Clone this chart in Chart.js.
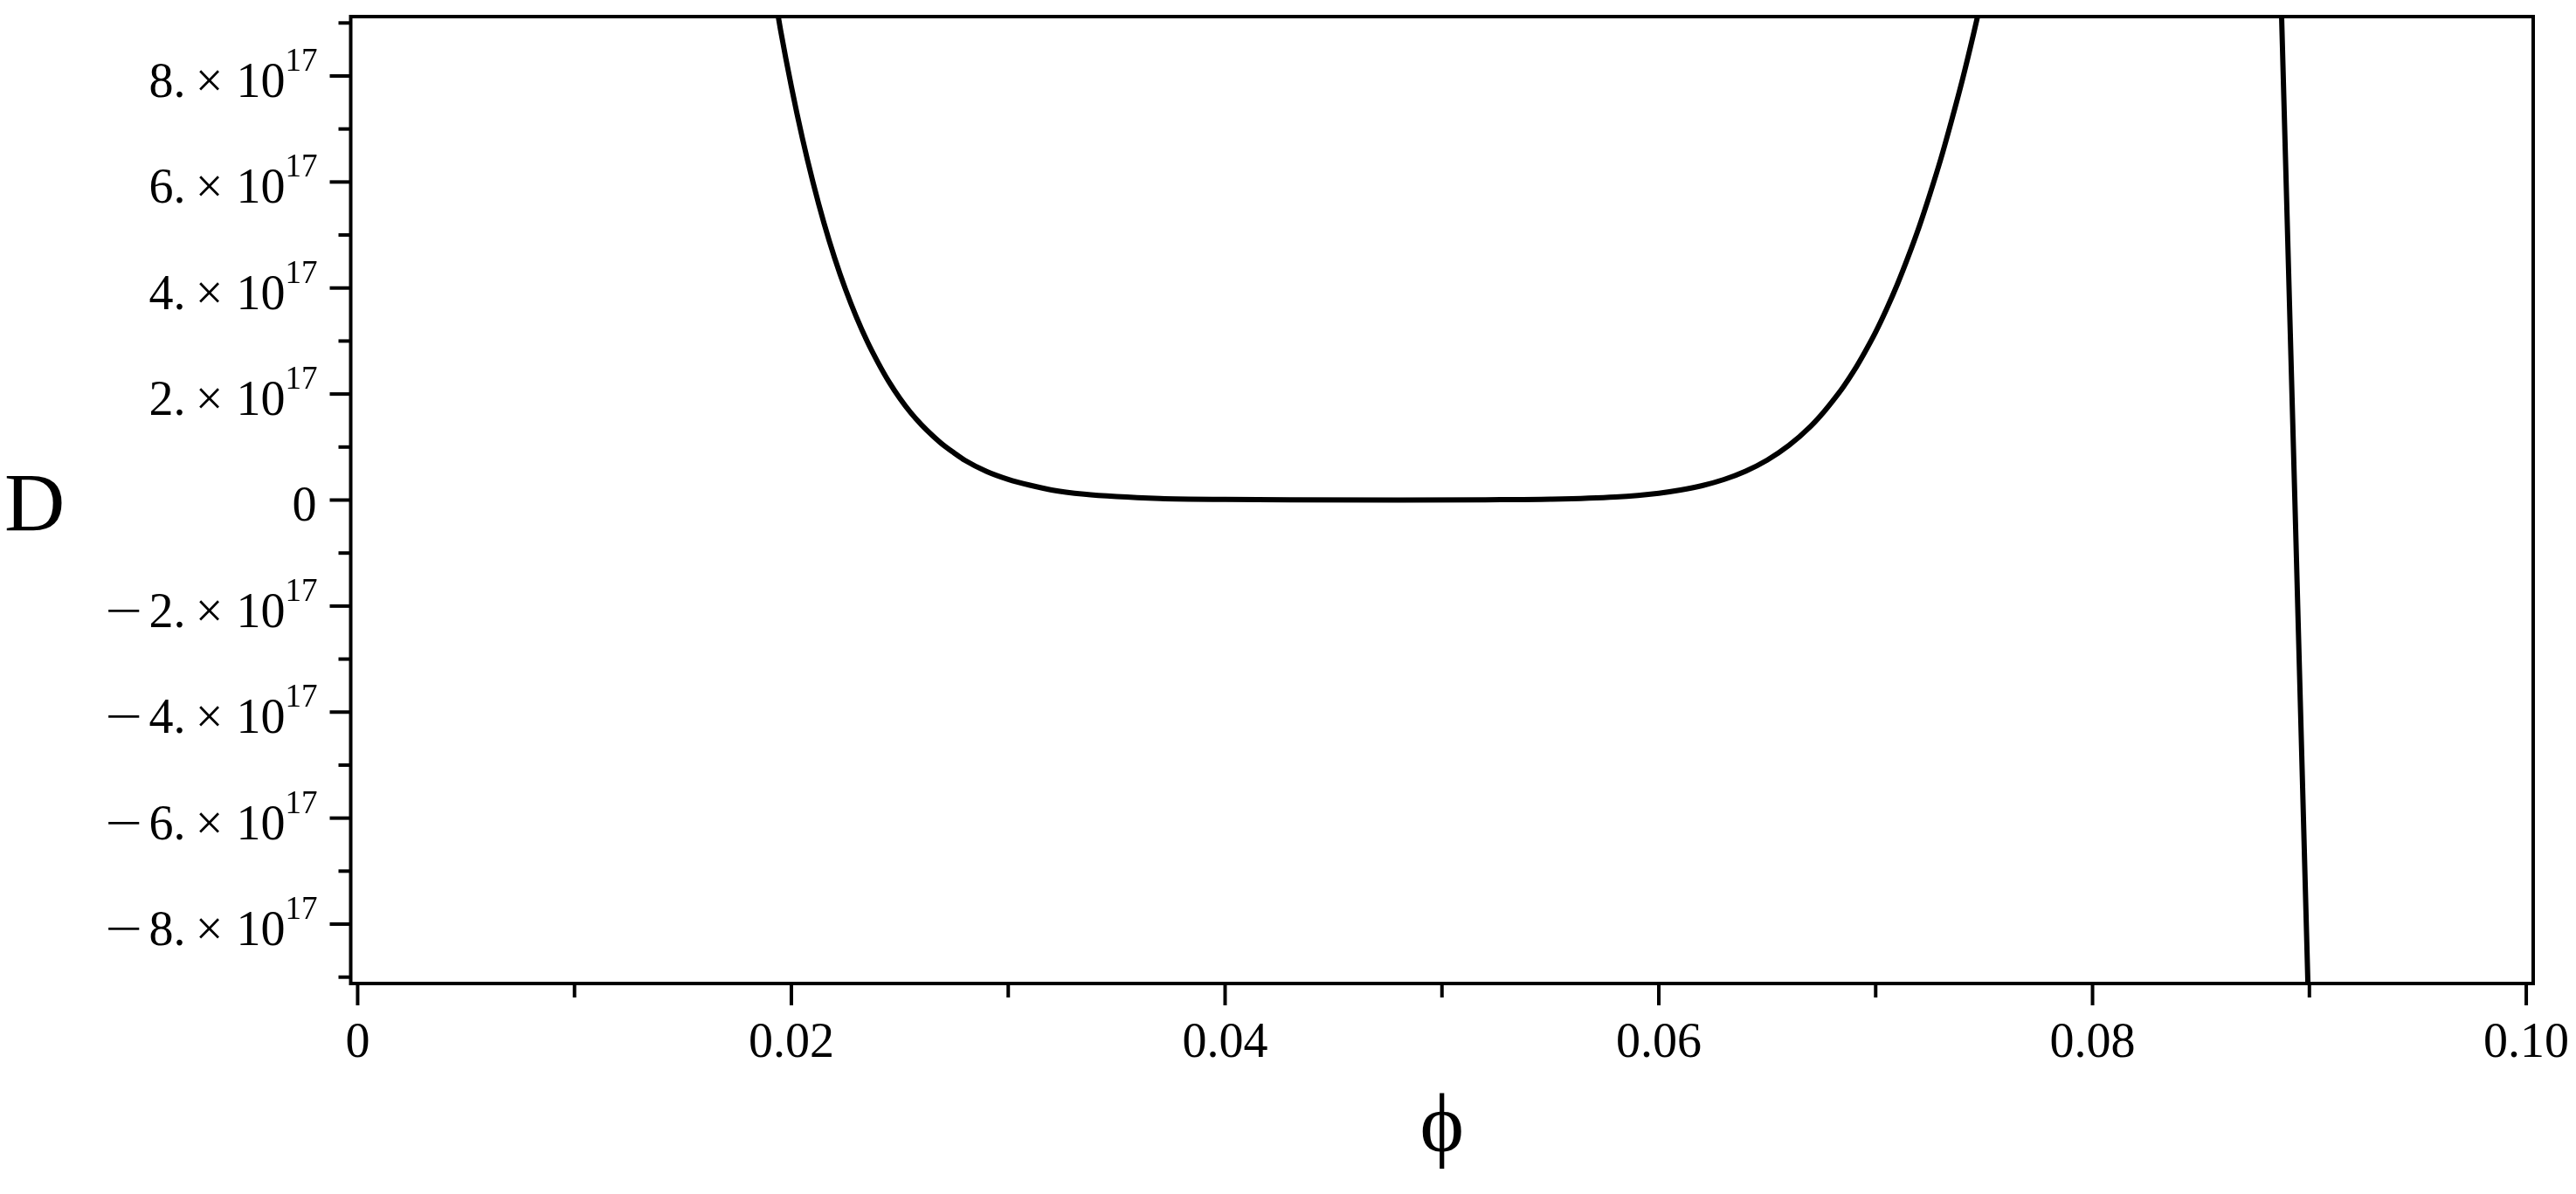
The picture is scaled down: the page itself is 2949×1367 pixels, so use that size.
<!DOCTYPE html>
<html>
<head>
<meta charset="utf-8">
<script src="https://cdn.jsdelivr.net/npm/chart.js@4.4.1/dist/chart.umd.min.js"></script>
<style>
  html, body { margin: 0; padding: 0; background: #fff; }
  canvas { display: block; }
</style>
</head>
<body>
<canvas id="c" width="2949" height="1367"></canvas>
<script>
// ---- Data (D in units of 1e17) ----
const phiMain = [0.0190, 0.0195, 0.0200, 0.0205, 0.0210, 0.0215, 0.0220, 0.0225, 0.0230, 0.0235,
                 0.0240, 0.0245, 0.0250, 0.0255, 0.0260, 0.0265, 0.0270, 0.0275, 0.0280, 0.0290,
                 0.0300, 0.0310, 0.0320, 0.0335, 0.0350, 0.0370, 0.0400, 0.0430, 0.0480, 0.0520,
                 0.0550, 0.0580, 0.0600, 0.0610, 0.0620, 0.0630, 0.0640, 0.0650, 0.0660, 0.0670,
                 0.0675, 0.0680, 0.0685, 0.0690, 0.0695, 0.0700, 0.0705, 0.0710, 0.0715, 0.0720,
                 0.0725, 0.0730, 0.0735, 0.0740, 0.0745, 0.0750];
const dMain   = [10.07, 8.87, 7.80, 6.84, 5.99, 5.23, 4.56, 3.97, 3.45, 2.99,
                 2.59, 2.23, 1.92, 1.65, 1.42, 1.22, 1.04, 0.89, 0.75, 0.54,
                 0.39, 0.28, 0.19, 0.11, 0.064, 0.030, 0.012, 0.004, 0.000, 0.005,
                 0.016, 0.058, 0.129, 0.189, 0.272, 0.387, 0.544, 0.754, 1.03, 1.39,
                 1.61, 1.86, 2.13, 2.44, 2.79, 3.17, 3.60, 4.07, 4.59, 5.15,
                 5.77, 6.43, 7.16, 7.93, 8.77, 9.66];
const phiSteep = [0.08870, 0.08933, 0.08995];
const dSteep   = [9.40, 0.00, -9.40];
const dScale = 1e17;

// ---- Axes / tick labels ----
const xRange = [-0.00032, 0.10032];
const yRange = [-9.12, 9.12];
const xTickValues = [0, 0.02, 0.04, 0.06, 0.08, 0.10];
const xTickLabels = ["0", "0.02", "0.04", "0.06", "0.08", "0.10"];
const xMinorValues = [0.01, 0.03, 0.05, 0.07, 0.09];
const yTickMantissas = [-8, -6, -4, -2, 0, 2, 4, 6, 8];
const yMinorMantissas = [-9, -7, -5, -3, -1, 1, 3, 5, 7, 9];
const yTickExponent = 17;
const xTitle = "ϕ";
const yTitle = "D";

const toPts = (xs, ys) => xs.map((x, i) => ({ x: x, y: ys[i] * dScale }));

const FONT = '"Liberation Serif", "Times New Roman", serif';

const axesPlugin = {
  id: 'mapleAxes',
  afterDraw(chart) {
    const { ctx, chartArea: a, scales: { x, y } } = chart;
    ctx.save();
    ctx.strokeStyle = '#000';
    ctx.fillStyle = '#000';
    ctx.lineWidth = 4;
    ctx.lineCap = 'butt';
    // frame
    ctx.strokeRect(a.left, a.top, a.right - a.left, a.bottom - a.top);

    // y ticks
    const drawYTick = (v, len) => {
      const py = y.getPixelForValue(v);
      ctx.beginPath(); ctx.moveTo(a.left - len, py); ctx.lineTo(a.left, py); ctx.stroke();
    };
    yTickMantissas.forEach(m => drawYTick(m * dScale, 24));
    yMinorMantissas.forEach(m => drawYTick(m * dScale, 14));

    // x ticks
    const drawXTick = (v, len) => {
      const px = x.getPixelForValue(v);
      ctx.beginPath(); ctx.moveTo(px, a.bottom); ctx.lineTo(px, a.bottom + len); ctx.stroke();
    };
    xTickValues.forEach(v => drawXTick(v, 25));
    xMinorValues.forEach(v => drawXTick(v, 16));

    // y labels
    const mainFont = '56px ' + FONT;
    const supFont = '37px ' + FONT;
    const R = a.left - 38;
    ctx.textBaseline = 'alphabetic';
    yTickMantissas.forEach(m => {
      const py = y.getPixelForValue(m * dScale);
      if (m === 0) {
        ctx.font = mainFont; ctx.textAlign = 'right';
        ctx.fillText('0', R - 1, py + 23);
        return;
      }
      ctx.font = supFont;
      const sw = ctx.measureText(String(yTickExponent)).width;
      const xs = R - sw;
      ctx.textAlign = 'left';
      ctx.fillText(String(yTickExponent), xs, py - 6);
      ctx.font = mainFont;
      ctx.textAlign = 'right';
      ctx.fillText('10', xs, py + 24);
      ctx.textAlign = 'center';
      ctx.fillText('×', xs - 87, py + 24);
      ctx.textAlign = 'right';
      ctx.fillText(Math.abs(m) + '.', xs - 114, py + 24);
      if (m < 0) {
        ctx.save();
        ctx.translate(xs - 185, py + 24);
        ctx.scale(1.35, 1);
        ctx.textAlign = 'center';
        ctx.fillText('−', 0, 0);
        ctx.restore();
      }
    });

    // x labels
    ctx.font = mainFont;
    ctx.textAlign = 'center';
    xTickValues.forEach((v, i) => {
      ctx.fillText(xTickLabels[i], x.getPixelForValue(v), a.bottom + 84);
    });

    // titles
    ctx.font = '96px ' + FONT;
    ctx.textAlign = 'left';
    ctx.fillText(yTitle, 5, y.getPixelForValue(0) + 35);
    ctx.textAlign = 'center';
    ctx.fillText(xTitle, (a.left + a.right) / 2, a.bottom + 192);
    ctx.restore();
  }
};

new Chart(document.getElementById('c'), {
  type: 'scatter',
  data: {
    datasets: [
      { data: toPts(phiMain, dMain), showLine: true, borderColor: '#000', borderWidth: 6,
        pointRadius: 0, cubicInterpolationMode: 'monotone', clip: 0 },
      { data: toPts(phiSteep, dSteep), showLine: true, borderColor: '#000', borderWidth: 6,
        pointRadius: 0, tension: 0, clip: 0 }
    ]
  },
  options: {
    responsive: false,
    animation: false,
    devicePixelRatio: 1,
    layout: { padding: { top: 19, right: 49, left: 0, bottom: 0 } },
    plugins: { legend: { display: false }, tooltip: { enabled: false } },
    scales: {
      x: {
        type: 'linear', min: xRange[0], max: xRange[1],
        grid: { display: false }, border: { display: false },
        ticks: { display: false },
        afterFit: s => { s.height = 241; }
      },
      y: {
        type: 'linear', min: yRange[0] * dScale, max: yRange[1] * dScale,
        grid: { display: false }, border: { display: false },
        ticks: { display: false },
        afterFit: s => { s.width = 401.5; }
      }
    }
  },
  plugins: [axesPlugin]
});
</script>
</body>
</html>
